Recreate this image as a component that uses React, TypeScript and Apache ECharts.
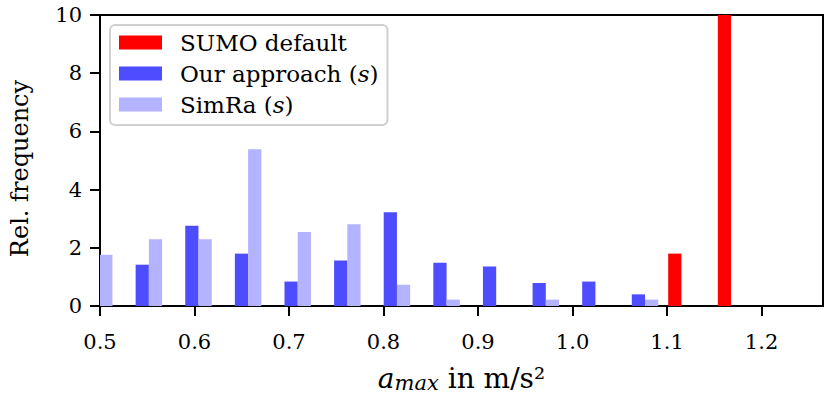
import React, { useEffect, useRef } from "react";
import * as echarts from "echarts";

// Histogram bins (centres, in m/s²) and bin width
const binCenters = [0.4922, 0.5447, 0.5972, 0.6497, 0.7022, 0.7547, 0.8072, 0.8597, 0.9122, 0.9647, 1.0172, 1.0697, 1.1222, 1.1747];
const binWidth = 0.0525;

// Relative frequencies per bin
const sumoDefault = [0, 0, 0, 0, 0, 0, 0, 0, 0, 0, 0, 0, 1.8, 17];
const ourApproach = [0, 1.42, 2.76, 1.8, 0.84, 1.56, 3.22, 1.49, 1.36, 0.79, 0.84, 0.4, 0, 0];
const simRa = [1.76, 2.29, 2.29, 5.39, 2.54, 2.81, 0.73, 0.22, 0, 0.22, 0, 0.22, 0, 0];

const seriesNames = ["SUMO default", "Our approach", "SimRa"];
const seriesColors = ["#ff0000", "#4d4dff", "#b3b3ff"];
const seriesValues = [sumoDefault, ourApproach, simRa];

const xTicks = [0.5, 0.6, 0.7, 0.8, 0.9, 1.0, 1.1, 1.2];

const FONT = "DejaVu Serif";

export default function App() {
  const ref = useRef<HTMLDivElement>(null);
  useEffect(() => {
    document.body.style.margin = "0";
    const chart = echarts.init(ref.current!, null, { renderer: "svg" });
    const barW = (binWidth * 0.8) / 3;
    const series = seriesValues.map((vals, s) => ({
      type: "custom",
      name: seriesNames[s],
      clip: true,
      itemStyle: { color: seriesColors[s] },
      data: vals.map((v, i) => [binCenters[i], v]),
      renderItem: (params: any, api: any) => {
        const c = api.value(0);
        const v = api.value(1);
        if (!v) return null;
        const x0 = c - binWidth / 2 + 0.1 * binWidth + s * barW;
        const p0 = api.coord([x0, v]);
        const p1 = api.coord([x0 + barW, 0]);
        const rect = echarts.graphic.clipRectByRect(
          { x: p0[0], y: p0[1], width: p1[0] - p0[0], height: p1[1] - p0[1] },
          params.coordSys
        );
        if (!rect) return null;
        return { type: "rect", shape: rect, style: { fill: seriesColors[s] } };
      },
    }));
    chart.setOption({
      animation: false,
      textStyle: { fontFamily: FONT },
      grid: {
        left: 100,
        right: 7,
        top: 15,
        bottom: 98,
        show: true,
        borderColor: "#000",
        borderWidth: 2,
        backgroundColor: "transparent",
        outerBoundsMode: "none",
      },
      legend: {
        orient: "vertical",
        left: 110,
        top: 25,
        data: seriesNames,
        icon: "rect",
        itemWidth: 43,
        itemHeight: 14,
        itemGap: 8,
        padding: [6, 9, 9, 9],
        backgroundColor: "#fff",
        borderColor: "#d0d0d0",
        borderWidth: 2,
        borderRadius: 5,
        selectedMode: false,
        formatter: (name: string) => (name === "SUMO default" ? name : name + " ({i|s})"),
        textStyle: {
          fontFamily: FONT,
          fontSize: 23,
          lineHeight: 22,
          color: "#000",
          padding: [0, 0, 0, 13],
          rich: {
            i: { fontFamily: FONT, fontStyle: "italic", fontSize: 23, lineHeight: 22, color: "#000" },
          },
        },
      },
      xAxis: {
        type: "value",
        min: 0.5,
        max: 1.265,
        name: "{a|a}{sub|max}{n| in m/s²}",
        nameLocation: "middle",
        nameGap: 57,
        nameTextStyle: {
          rich: {
            a: { fontFamily: FONT, fontStyle: "italic", fontSize: 28, color: "#000" },
            sub: { fontFamily: FONT, fontStyle: "italic", fontSize: 21, color: "#000", verticalAlign: "bottom", padding: [9, 0, 0, 0] },
            n: { fontFamily: FONT, fontSize: 28, color: "#000" },
          },
        },
        splitLine: { show: false },
        axisLine: { show: true, onZero: false, lineStyle: { color: "#000", width: 2 } },
        axisTick: { show: true, inside: false, length: 10, customValues: xTicks, lineStyle: { color: "#000", width: 2 } },
        axisLabel: {
          customValues: xTicks,
          margin: 25,
          fontFamily: FONT,
          fontSize: 21,
          color: "#000",
          formatter: (v: number) => v.toFixed(1),
        },
      },
      yAxis: {
        type: "value",
        min: 0,
        max: 10,
        interval: 2,
        name: "Rel. frequency",
        nameLocation: "middle",
        nameRotate: 90,
        nameGap: 68,
        nameTextStyle: { fontFamily: FONT, fontSize: 24, color: "#000", padding: [0, 16, 0, 0] },
        splitLine: { show: false },
        axisLine: { show: true, lineStyle: { color: "#000", width: 2 } },
        axisTick: { show: true, inside: false, length: 10, lineStyle: { color: "#000", width: 2 } },
        axisLabel: { margin: 18, fontFamily: FONT, fontSize: 21, color: "#000" },
      },
      series,
    });
    return () => chart.dispose();
  }, []);
  return <div ref={ref} style={{ width: 830, height: 404 }} />;
}
